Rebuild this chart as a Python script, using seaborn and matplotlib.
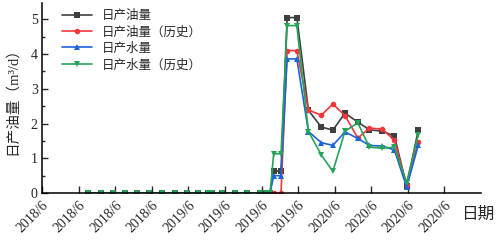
import matplotlib
matplotlib.use("Agg")
import matplotlib.pyplot as plt
import numpy as np
import pandas as pd
import seaborn as sns
from matplotlib.ticker import MultipleLocator

# months since 2018/1 (x position of each sample)
months = [3.8, 4.8, 5.8, 6.8, 7.8, 8.8, 9.8, 10.9, 11.85, 12.8, 13.6, 13.9,
          14.8, 15.8, 16.8, 17.85, 18.4, 18.7, 19.0, 19.6, 20.1, 20.9,
          21.85, 22.9, 23.85, 24.85, 25.9, 26.85, 27.9, 28.9, 29.9, 30.85]

zeros = [0.0] * 18
oil = zeros + [0.63, 0.63, 5.05, 5.05, 2.38, 1.90, 1.81, 2.30, 2.04, 1.82, 1.78, 1.64, 0.20, 1.80]
oil_hist = zeros + [0.0, 0.0, 4.10, 4.10, 2.39, 2.24, 2.56, 2.23, 1.58, 1.87, 1.84, 1.52, 0.22, 1.48]
water = zeros + [0.50, 0.50, 3.86, 3.86, 1.77, 1.45, 1.37, 1.76, 1.57, 1.37, 1.35, 1.24, 0.17, 1.37]
water_hist = zeros + [1.13, 1.13, 4.82, 4.82, 1.77, 1.10, 0.62, 1.78, 2.02, 1.32, 1.29, 1.32, 0.30, 1.68]

series_names = ["日产油量", "日产油量（历史）", "日产水量", "日产水量（历史）"]
series_values = [oil, oil_hist, water, water_hist]
colors = ["#3f3f3f", "#f2373a", "#1a63d8", "#25a35a"]
marker_styles = ["s", "o", "^", "v"]

tick_pos = list(range(0, 36, 3))
tick_labels = ["2018/6"] * 4 + ["2019/6"] * 4 + ["2020/6"] * 4

df = pd.concat(
    [pd.DataFrame({"month": months, "value": v, "series": n})
     for n, v in zip(series_names, series_values)],
    ignore_index=True)

sns.set_style("ticks")
plt.rcParams["font.family"] = ["Liberation Serif", "Noto Sans CJK SC", "DejaVu Sans"]
plt.rcParams["xtick.direction"] = "in"
plt.rcParams["ytick.direction"] = "in"

fig = plt.figure(figsize=(4.96, 2.4), dpi=100)
ax = fig.add_axes([42 / 496, 1 - 193 / 240, 439 / 496, 190 / 240])

sns.lineplot(data=df, x="month", y="value", hue="series", style="series",
             hue_order=series_names, style_order=series_names,
             palette=dict(zip(series_names, colors)),
             markers=dict(zip(series_names, marker_styles)),
             dashes=False, estimator=None, sort=False,
             linewidth=1.2, markersize=4, markeredgewidth=0, ax=ax)

ax.set_xlim(0, 36)
ax.set_ylim(0, 5.47)
ax.set_xticks(tick_pos)
ax.set_xticklabels(tick_labels, rotation=45, ha="right", rotation_mode="anchor",
                   fontsize=10)
ax.yaxis.set_major_locator(MultipleLocator(1))
ax.yaxis.set_minor_locator(MultipleLocator(0.5))
ax.tick_params(axis="y", which="major", length=4, width=1, labelsize=10, pad=3)
ax.tick_params(axis="y", which="minor", length=2.5, width=1)
ax.tick_params(axis="x", which="major", length=5, width=1, pad=4)

for side in ["top", "right"]:
    ax.spines[side].set_visible(False)
for side in ["left", "bottom"]:
    ax.spines[side].set_linewidth(1.1)
    ax.spines[side].set_color("black")

ax.set_ylabel("日产油量（m³/d）", fontsize=10.5, va="center")
ax.yaxis.set_label_coords(-0.068, 0.5)
ax.set_xlabel("日期", fontsize=12, va="center")
ax.xaxis.set_label_coords(0.993, -0.115)

leg = ax.legend(loc="upper left", bbox_to_anchor=(0.03, 1.0), frameon=False,
                fontsize=9, handlelength=2.4, handletextpad=0.8,
                labelspacing=0.35, borderaxespad=0.15)

fig.savefig("out.png", dpi=100)
